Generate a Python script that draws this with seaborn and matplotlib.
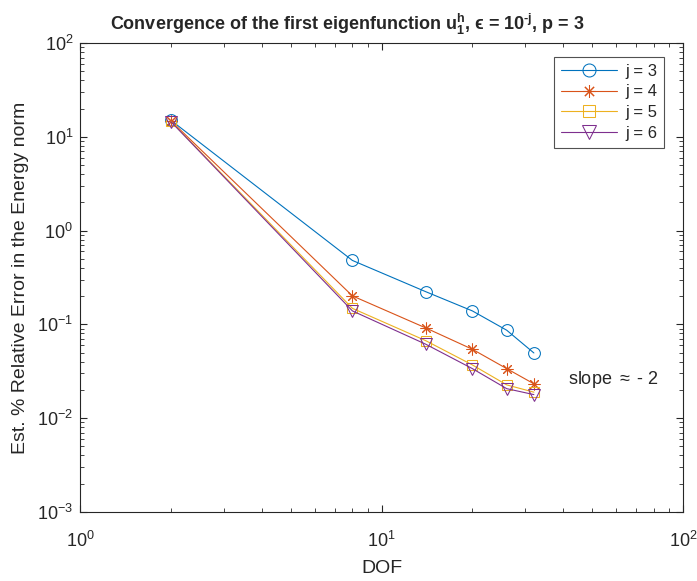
import numpy as np
import pandas as pd
import matplotlib
matplotlib.use("Agg")
import matplotlib.pyplot as plt
import seaborn as sns

# data
dof = [2, 8, 14, 20, 26, 32]
err_j3 = [15.0, 0.48, 0.223, 0.139, 0.0865, 0.0495]
err_j4 = [14.8, 0.201, 0.0916, 0.0542, 0.0337, 0.0232]
err_j5 = [14.6, 0.148, 0.0670, 0.0369, 0.0226, 0.0189]
err_j6 = [14.5, 0.139, 0.0614, 0.0337, 0.0206, 0.0178]
labels = ["j = 3", "j = 4", "j = 5", "j = 6"]

sns.set_style("ticks")
plt.rcParams["font.family"] = ["Liberation Sans", "DejaVu Sans"]
plt.rcParams["mathtext.fontset"] = "custom"
plt.rcParams["mathtext.rm"] = "Liberation Sans"
plt.rcParams["mathtext.bf"] = "Liberation Sans:bold"
plt.rcParams["mathtext.it"] = "Liberation Sans:italic"
plt.rcParams["axes.unicode_minus"] = False

colors = ["#0072BD", "#D95319", "#EDB120", "#7E2F8E"]
markers = ["o", (8, 2, 0), "s", "v"]
msizes = [8.5, 8.5, 7.5, 9]

fig = plt.figure(figsize=(6.97, 5.81), dpi=100)
ax = fig.add_axes([0.115, 0.119, 0.865, 0.807])

for err, lab, c, m, ms in zip([err_j3, err_j4, err_j5, err_j6], labels, colors, markers, msizes):
    df = pd.DataFrame({"DOF": dof, "err": err})
    sns.lineplot(data=df, x="DOF", y="err", ax=ax, color=c, marker=m,
                 markersize=ms, markerfacecolor="none", markeredgecolor=c,
                 markeredgewidth=0.75, linewidth=0.8, label=lab)

ax.set_xscale("log")
ax.set_yscale("log")
ax.set_xlim(1, 100)
ax.set_ylim(1e-3, 1e2)
ax.tick_params(which="both", direction="in", top=True, right=True, labelsize=13, colors="#262626")
ax.tick_params(which="major", length=5)
ax.tick_params(which="minor", length=3)
ax.tick_params(axis="x", which="major", pad=14)
ax.tick_params(axis="y", which="major", pad=5)
for s in ax.spines.values():
    s.set_linewidth(0.8)
    s.set_color("#262626")

ax.set_xlabel("DOF", fontsize=14, color="#262626", labelpad=6)
ax.set_ylabel("Est. % Relative Error in the Energy norm", fontsize=14, color="#262626", labelpad=6)
ax.set_title("Convergence of the first eigenfunction $\\mathbf{u_1^h}$, ϵ = 10$^{\\mathbf{\u2010j}}$, p = 3",
             fontsize=13, fontweight="bold", pad=9, x=0.443)

ax.text(41.5, 0.0255, r"slope $\approx$ - 2", fontsize=13, va="center", ha="left")

leg = ax.legend(loc="upper right", bbox_to_anchor=(0.983, 0.988), fontsize=12,
                handlelength=3.4, frameon=True, fancybox=False, borderpad=0.4,
                labelspacing=0.35, handletextpad=0.5, markerscale=1.1)
leg.get_frame().set_edgecolor("#262626")
leg.get_frame().set_linewidth(0.8)

fig.savefig("out.png", dpi=100)
